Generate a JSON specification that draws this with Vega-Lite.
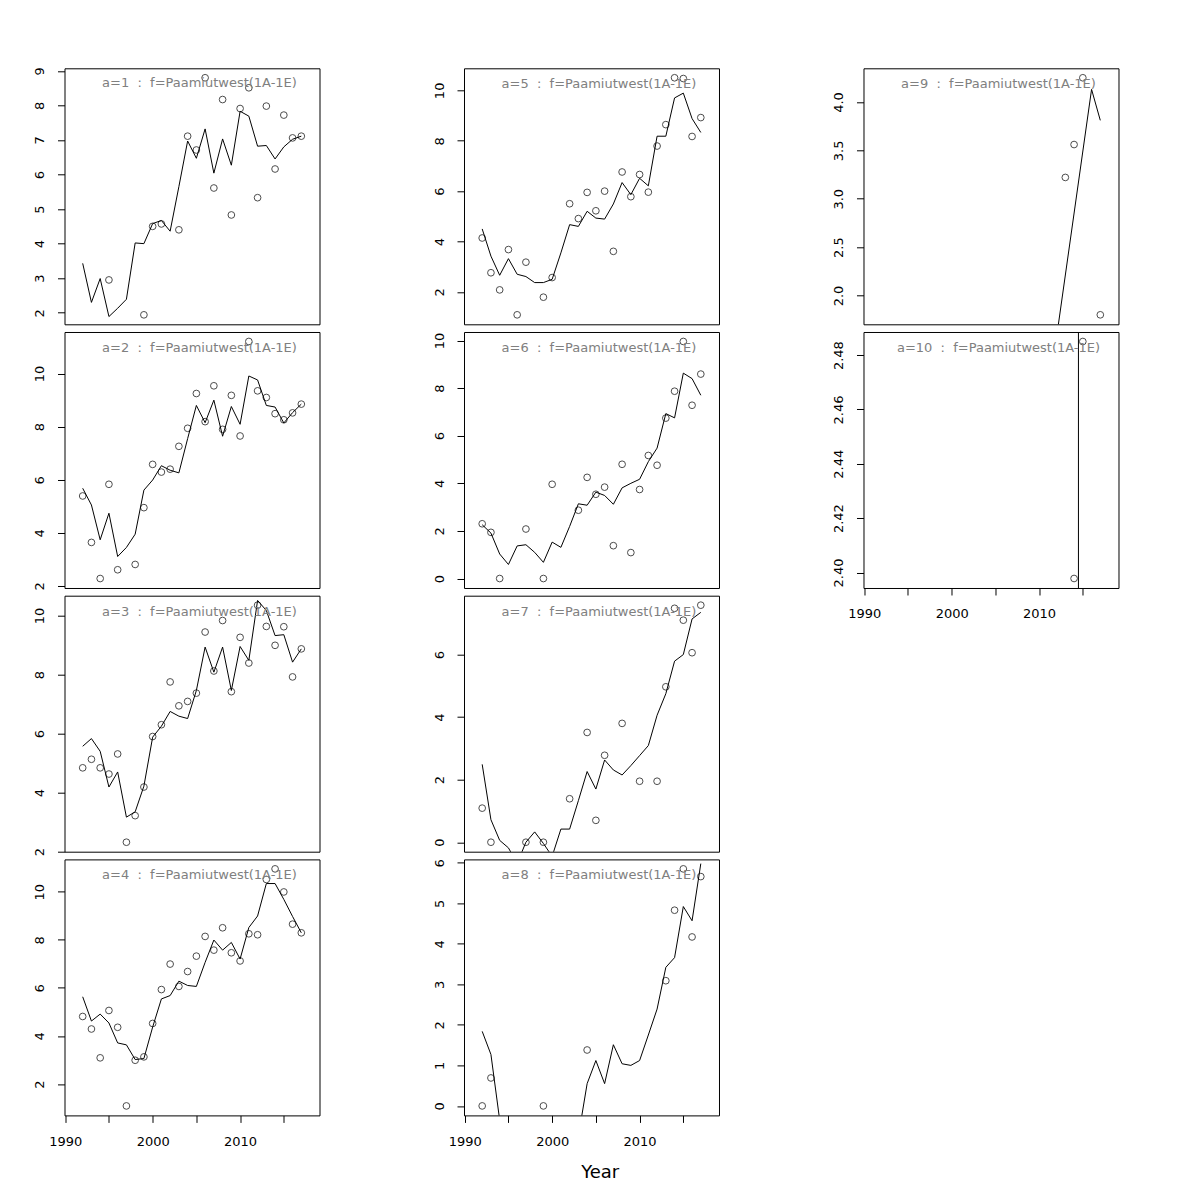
{
"$schema":"https://vega.github.io/schema/vega-lite/v6.json",
"background":"white",
"padding":{"left":32.5,"top":65.3,"right":5,"bottom":5},
"datasets":{"d":[
{"a":1,"year":1992,"obs":null,"fit":3.43},{"a":1,"year":1993,"obs":null,"fit":2.30},{"a":1,"year":1994,"obs":null,"fit":2.99},{"a":1,"year":1995,"obs":2.95,"fit":1.89},{"a":1,"year":1996,"obs":null,"fit":2.13},{"a":1,"year":1997,"obs":null,"fit":2.39},{"a":1,"year":1998,"obs":null,"fit":4.02},{"a":1,"year":1999,"obs":1.94,"fit":4.00},{"a":1,"year":2000,"obs":4.50,"fit":4.58},{"a":1,"year":2001,"obs":4.57,"fit":4.67},{"a":1,"year":2002,"obs":null,"fit":4.36},{"a":1,"year":2003,"obs":4.40,"fit":5.65},{"a":1,"year":2004,"obs":7.11,"fit":6.97},{"a":1,"year":2005,"obs":6.71,"fit":6.47},{"a":1,"year":2006,"obs":8.80,"fit":7.32},{"a":1,"year":2007,"obs":5.61,"fit":6.04},{"a":1,"year":2008,"obs":8.17,"fit":7.03},{"a":1,"year":2009,"obs":4.83,"fit":6.27},{"a":1,"year":2010,"obs":7.91,"fit":7.83},{"a":1,"year":2011,"obs":8.51,"fit":7.69},{"a":1,"year":2012,"obs":5.33,"fit":6.82},{"a":1,"year":2013,"obs":7.98,"fit":6.84},{"a":1,"year":2014,"obs":6.16,"fit":6.45},{"a":1,"year":2015,"obs":7.72,"fit":6.80},{"a":1,"year":2016,"obs":7.06,"fit":7.02},{"a":1,"year":2017,"obs":7.11,"fit":7.11},
{"a":2,"year":1992,"obs":5.39,"fit":5.68},{"a":2,"year":1993,"obs":3.64,"fit":5.05},{"a":2,"year":1994,"obs":2.28,"fit":3.74},{"a":2,"year":1995,"obs":5.83,"fit":4.74},{"a":2,"year":1996,"obs":2.61,"fit":3.11},{"a":2,"year":1997,"obs":null,"fit":3.45},{"a":2,"year":1998,"obs":2.81,"fit":3.95},{"a":2,"year":1999,"obs":4.95,"fit":5.61},{"a":2,"year":2000,"obs":6.58,"fit":5.99},{"a":2,"year":2001,"obs":6.29,"fit":6.53},{"a":2,"year":2002,"obs":6.40,"fit":6.36},{"a":2,"year":2003,"obs":7.26,"fit":6.26},{"a":2,"year":2004,"obs":7.94,"fit":7.55},{"a":2,"year":2005,"obs":9.25,"fit":8.80},{"a":2,"year":2006,"obs":8.19,"fit":8.15},{"a":2,"year":2007,"obs":9.54,"fit":9.00},{"a":2,"year":2008,"obs":7.90,"fit":7.64},{"a":2,"year":2009,"obs":9.18,"fit":8.76},{"a":2,"year":2010,"obs":7.65,"fit":8.09},{"a":2,"year":2011,"obs":11.21,"fit":9.91},{"a":2,"year":2012,"obs":9.35,"fit":9.76},{"a":2,"year":2013,"obs":9.10,"fit":8.80},{"a":2,"year":2014,"obs":8.49,"fit":8.74},{"a":2,"year":2015,"obs":8.26,"fit":8.14},{"a":2,"year":2016,"obs":8.52,"fit":8.53},{"a":2,"year":2017,"obs":8.85,"fit":8.85},
{"a":3,"year":1992,"obs":4.84,"fit":5.57},{"a":3,"year":1993,"obs":5.13,"fit":5.83},{"a":3,"year":1994,"obs":4.84,"fit":5.40},{"a":3,"year":1995,"obs":4.63,"fit":4.19},{"a":3,"year":1996,"obs":5.31,"fit":4.70},{"a":3,"year":1997,"obs":2.32,"fit":3.17},{"a":3,"year":1998,"obs":3.22,"fit":3.35},{"a":3,"year":1999,"obs":4.19,"fit":4.22},{"a":3,"year":2000,"obs":5.90,"fit":5.88},{"a":3,"year":2001,"obs":6.30,"fit":6.25},{"a":3,"year":2002,"obs":7.75,"fit":6.75},{"a":3,"year":2003,"obs":6.94,"fit":6.59},{"a":3,"year":2004,"obs":7.09,"fit":6.51},{"a":3,"year":2005,"obs":7.37,"fit":7.46},{"a":3,"year":2006,"obs":9.44,"fit":8.93},{"a":3,"year":2007,"obs":8.12,"fit":8.08},{"a":3,"year":2008,"obs":9.83,"fit":8.93},{"a":3,"year":2009,"obs":7.42,"fit":7.46},{"a":3,"year":2010,"obs":9.26,"fit":8.95},{"a":3,"year":2011,"obs":8.39,"fit":8.48},{"a":3,"year":2012,"obs":10.35,"fit":10.51},{"a":3,"year":2013,"obs":9.63,"fit":10.17},{"a":3,"year":2014,"obs":8.99,"fit":9.32},{"a":3,"year":2015,"obs":9.62,"fit":9.35},{"a":3,"year":2016,"obs":7.92,"fit":8.42},{"a":3,"year":2017,"obs":8.87,"fit":8.87},
{"a":4,"year":1992,"obs":4.81,"fit":5.63},{"a":4,"year":1993,"obs":4.29,"fit":4.62},{"a":4,"year":1994,"obs":3.09,"fit":4.91},{"a":4,"year":1995,"obs":5.06,"fit":4.54},{"a":4,"year":1996,"obs":4.36,"fit":3.71},{"a":4,"year":1997,"obs":1.09,"fit":3.63},{"a":4,"year":1998,"obs":2.99,"fit":3.02},{"a":4,"year":1999,"obs":3.13,"fit":3.06},{"a":4,"year":2000,"obs":4.52,"fit":4.37},{"a":4,"year":2001,"obs":5.93,"fit":5.54},{"a":4,"year":2002,"obs":6.99,"fit":5.68},{"a":4,"year":2003,"obs":6.06,"fit":6.28},{"a":4,"year":2004,"obs":6.68,"fit":6.10},{"a":4,"year":2005,"obs":7.32,"fit":6.06},{"a":4,"year":2006,"obs":8.14,"fit":7.06},{"a":4,"year":2007,"obs":7.57,"fit":7.99},{"a":4,"year":2008,"obs":8.50,"fit":7.57},{"a":4,"year":2009,"obs":7.46,"fit":7.89},{"a":4,"year":2010,"obs":7.12,"fit":7.20},{"a":4,"year":2011,"obs":8.25,"fit":8.51},{"a":4,"year":2012,"obs":8.21,"fit":8.99},{"a":4,"year":2013,"obs":10.51,"fit":10.34},{"a":4,"year":2014,"obs":10.95,"fit":10.34},{"a":4,"year":2015,"obs":9.99,"fit":9.68},{"a":4,"year":2016,"obs":8.65,"fit":8.97},{"a":4,"year":2017,"obs":8.29,"fit":8.29},
{"a":5,"year":1992,"obs":4.14,"fit":4.50},{"a":5,"year":1993,"obs":2.76,"fit":3.42},{"a":5,"year":1994,"obs":2.08,"fit":2.66},{"a":5,"year":1995,"obs":3.68,"fit":3.32},{"a":5,"year":1996,"obs":1.09,"fit":2.70},{"a":5,"year":1997,"obs":3.18,"fit":2.61},{"a":5,"year":1998,"obs":null,"fit":2.37},{"a":5,"year":1999,"obs":1.79,"fit":2.37},{"a":5,"year":2000,"obs":2.57,"fit":2.50},{"a":5,"year":2001,"obs":null,"fit":3.55},{"a":5,"year":2002,"obs":5.50,"fit":4.67},{"a":5,"year":2003,"obs":4.91,"fit":4.60},{"a":5,"year":2004,"obs":5.95,"fit":5.20},{"a":5,"year":2005,"obs":5.22,"fit":4.93},{"a":5,"year":2006,"obs":6.00,"fit":4.89},{"a":5,"year":2007,"obs":3.61,"fit":5.49},{"a":5,"year":2008,"obs":6.76,"fit":6.34},{"a":5,"year":2009,"obs":5.78,"fit":5.86},{"a":5,"year":2010,"obs":6.66,"fit":6.51},{"a":5,"year":2011,"obs":5.96,"fit":6.21},{"a":5,"year":2012,"obs":7.79,"fit":8.18},{"a":5,"year":2013,"obs":8.64,"fit":8.18},{"a":5,"year":2014,"obs":10.50,"fit":9.70},{"a":5,"year":2015,"obs":10.47,"fit":9.89},{"a":5,"year":2016,"obs":8.17,"fit":8.88},{"a":5,"year":2017,"obs":8.92,"fit":8.33},
{"a":6,"year":1992,"obs":2.30,"fit":2.26},{"a":6,"year":1993,"obs":1.94,"fit":1.91},{"a":6,"year":1994,"obs":0,"fit":1.03},{"a":6,"year":1995,"obs":null,"fit":0.59},{"a":6,"year":1996,"obs":null,"fit":1.37},{"a":6,"year":1997,"obs":2.08,"fit":1.42},{"a":6,"year":1998,"obs":null,"fit":1.10},{"a":6,"year":1999,"obs":0,"fit":0.68},{"a":6,"year":2000,"obs":3.96,"fit":1.53},{"a":6,"year":2001,"obs":null,"fit":1.31},{"a":6,"year":2002,"obs":null,"fit":2.19},{"a":6,"year":2003,"obs":2.87,"fit":3.14},{"a":6,"year":2004,"obs":4.25,"fit":3.08},{"a":6,"year":2005,"obs":3.54,"fit":3.63},{"a":6,"year":2006,"obs":3.84,"fit":3.49},{"a":6,"year":2007,"obs":1.38,"fit":3.12},{"a":6,"year":2008,"obs":4.80,"fit":3.81},{"a":6,"year":2009,"obs":1.09,"fit":4.00},{"a":6,"year":2010,"obs":3.74,"fit":4.17},{"a":6,"year":2011,"obs":5.17,"fit":4.91},{"a":6,"year":2012,"obs":4.76,"fit":5.48},{"a":6,"year":2013,"obs":6.74,"fit":6.93},{"a":6,"year":2014,"obs":7.87,"fit":6.75},{"a":6,"year":2015,"obs":9.96,"fit":8.63},{"a":6,"year":2016,"obs":7.28,"fit":8.40},{"a":6,"year":2017,"obs":8.59,"fit":7.70},
{"a":7,"year":1992,"obs":1.09,"fit":2.49},{"a":7,"year":1993,"obs":0,"fit":0.72},{"a":7,"year":1994,"obs":null,"fit":0.06},{"a":7,"year":1995,"obs":null,"fit":-0.18},{"a":7,"year":1996,"obs":null,"fit":-0.68},{"a":7,"year":1997,"obs":0,"fit":0.0},{"a":7,"year":1998,"obs":null,"fit":0.33},{"a":7,"year":1999,"obs":0,"fit":-0.04},{"a":7,"year":2000,"obs":null,"fit":-0.45},{"a":7,"year":2001,"obs":null,"fit":0.42},{"a":7,"year":2002,"obs":1.39,"fit":0.42},{"a":7,"year":2003,"obs":null,"fit":1.33},{"a":7,"year":2004,"obs":3.51,"fit":2.26},{"a":7,"year":2005,"obs":0.70,"fit":1.70},{"a":7,"year":2006,"obs":2.78,"fit":2.63},{"a":7,"year":2007,"obs":null,"fit":2.31},{"a":7,"year":2008,"obs":3.80,"fit":2.15},{"a":7,"year":2009,"obs":null,"fit":2.45},{"a":7,"year":2010,"obs":1.95,"fit":2.77},{"a":7,"year":2011,"obs":null,"fit":3.09},{"a":7,"year":2012,"obs":1.95,"fit":4.06},{"a":7,"year":2013,"obs":4.97,"fit":4.75},{"a":7,"year":2014,"obs":7.48,"fit":5.79},{"a":7,"year":2015,"obs":7.10,"fit":6.00},{"a":7,"year":2016,"obs":6.06,"fit":7.14},{"a":7,"year":2017,"obs":7.58,"fit":7.35},
{"a":8,"year":1992,"obs":0,"fit":1.84},{"a":8,"year":1993,"obs":0.69,"fit":1.27},{"a":8,"year":1994,"obs":null,"fit":-0.35},{"a":8,"year":1999,"obs":0,"fit":null},{"a":8,"year":2003,"obs":null,"fit":-0.75},{"a":8,"year":2004,"obs":1.38,"fit":0.55},{"a":8,"year":2005,"obs":null,"fit":1.12},{"a":8,"year":2006,"obs":null,"fit":0.55},{"a":8,"year":2007,"obs":null,"fit":1.51},{"a":8,"year":2008,"obs":null,"fit":1.04},{"a":8,"year":2009,"obs":null,"fit":1.00},{"a":8,"year":2010,"obs":null,"fit":1.12},{"a":8,"year":2011,"obs":null,"fit":1.75},{"a":8,"year":2012,"obs":null,"fit":2.39},{"a":8,"year":2013,"obs":3.09,"fit":3.42},{"a":8,"year":2014,"obs":4.83,"fit":3.66},{"a":8,"year":2015,"obs":5.85,"fit":4.92},{"a":8,"year":2016,"obs":4.17,"fit":4.57},{"a":8,"year":2017,"obs":5.66,"fit":5.98},
{"a":9,"year":2012,"obs":null,"fit":1.57},{"a":9,"year":2013,"obs":3.22,"fit":null},{"a":9,"year":2014,"obs":3.56,"fit":null},{"a":9,"year":2015,"obs":4.25,"fit":null},{"a":9,"year":2016,"obs":null,"fit":4.13},{"a":9,"year":2017,"obs":1.80,"fit":3.81},
{"a":10,"year":2014,"obs":2.3978,"fit":-50},{"a":10,"year":2015,"obs":2.485,"fit":55}
]},
"data":{"name":"d"},
"spacing":111.5,
"hconcat":[
{"spacing":7.7,"bounds":"flush","vconcat":[
{"width":255,"height":256,"title":{"text":"a=1\u00a0\u00a0:\u00a0\u00a0f=Paamiutwest(1A-1E)"},"transform":[{"filter":"datum.a == 1"}],
"encoding":{"x":{"field":"year","type":"quantitative","scale":{"domain":[1989.92,2019.08],"nice":false,"zero":false},"axis":null}},
"layer":[
{"transform":[{"filter":"isValid(datum.fit)"}],"mark":{"type":"line","clip":true,"color":"black","strokeWidth":1},"encoding":{"y":{"field":"fit","type":"quantitative","title":null,"scale":{"domain":[1.666,9.074],"nice":false,"zero":false},"axis":{"values":[2,3,4,5,6,7,8,9]}}}},
{"transform":[{"filter":"isValid(datum.obs)"}],"mark":{"type":"point","clip":true,"shape":"circle","filled":false,"color":"black","size":45,"strokeWidth":1},"encoding":{"y":{"field":"obs","type":"quantitative","title":null,"scale":{"domain":[1.666,9.074],"nice":false,"zero":false},"axis":{"values":[2,3,4,5,6,7,8,9]}}}}]},
{"width":255,"height":256,"title":{"text":"a=2\u00a0\u00a0:\u00a0\u00a0f=Paamiutwest(1A-1E)"},"transform":[{"filter":"datum.a == 2"}],
"encoding":{"x":{"field":"year","type":"quantitative","scale":{"domain":[1989.92,2019.08],"nice":false,"zero":false},"axis":null}},
"layer":[
{"transform":[{"filter":"isValid(datum.fit)"}],"mark":{"type":"line","clip":true,"color":"black","strokeWidth":1},"encoding":{"y":{"field":"fit","type":"quantitative","title":null,"scale":{"domain":[1.923,11.567],"nice":false,"zero":false},"axis":{"values":[2,4,6,8,10]}}}},
{"transform":[{"filter":"isValid(datum.obs)"}],"mark":{"type":"point","clip":true,"shape":"circle","filled":false,"color":"black","size":45,"strokeWidth":1},"encoding":{"y":{"field":"obs","type":"quantitative","title":null,"scale":{"domain":[1.923,11.567],"nice":false,"zero":false},"axis":{"values":[2,4,6,8,10]}}}}]},
{"width":255,"height":256,"title":{"text":"a=3\u00a0\u00a0:\u00a0\u00a0f=Paamiutwest(1A-1E)"},"transform":[{"filter":"datum.a == 3"}],
"encoding":{"x":{"field":"year","type":"quantitative","scale":{"domain":[1989.92,2019.08],"nice":false,"zero":false},"axis":null}},
"layer":[
{"transform":[{"filter":"isValid(datum.fit)"}],"mark":{"type":"line","clip":true,"color":"black","strokeWidth":1},"encoding":{"y":{"field":"fit","type":"quantitative","title":null,"scale":{"domain":[1.999,10.671],"nice":false,"zero":false},"axis":{"values":[2,4,6,8,10]}}}},
{"transform":[{"filter":"isValid(datum.obs)"}],"mark":{"type":"point","clip":true,"shape":"circle","filled":false,"color":"black","size":45,"strokeWidth":1},"encoding":{"y":{"field":"obs","type":"quantitative","title":null,"scale":{"domain":[1.999,10.671],"nice":false,"zero":false},"axis":{"values":[2,4,6,8,10]}}}}]},
{"width":255,"height":256,"title":{"text":"a=4\u00a0\u00a0:\u00a0\u00a0f=Paamiutwest(1A-1E)"},"transform":[{"filter":"datum.a == 4"}],
"encoding":{"x":{"field":"year","type":"quantitative","scale":{"domain":[1989.92,2019.08],"nice":false,"zero":false},"axis":{"values":[1990,1995,2000,2005,2010,2015],"format":"d","labelExpr":"datum.value % 10 === 0 ? datum.label : ''","title":null}}},
"layer":[
{"transform":[{"filter":"isValid(datum.fit)"}],"mark":{"type":"line","clip":true,"color":"black","strokeWidth":1},"encoding":{"y":{"field":"fit","type":"quantitative","title":null,"scale":{"domain":[0.696,11.344],"nice":false,"zero":false},"axis":{"values":[2,4,6,8,10]}}}},
{"transform":[{"filter":"isValid(datum.obs)"}],"mark":{"type":"point","clip":true,"shape":"circle","filled":false,"color":"black","size":45,"strokeWidth":1},"encoding":{"y":{"field":"obs","type":"quantitative","title":null,"scale":{"domain":[0.696,11.344],"nice":false,"zero":false},"axis":{"values":[2,4,6,8,10]}}}}]}
]},
{"spacing":7.7,"bounds":"flush","vconcat":[
{"width":255,"height":256,"title":{"text":"a=5\u00a0\u00a0:\u00a0\u00a0f=Paamiutwest(1A-1E)"},"transform":[{"filter":"datum.a == 5"}],
"encoding":{"x":{"field":"year","type":"quantitative","scale":{"domain":[1989.92,2019.08],"nice":false,"zero":false},"axis":null}},
"layer":[
{"transform":[{"filter":"isValid(datum.fit)"}],"mark":{"type":"line","clip":true,"color":"black","strokeWidth":1},"encoding":{"y":{"field":"fit","type":"quantitative","title":null,"scale":{"domain":[0.714,10.876],"nice":false,"zero":false},"axis":{"values":[2,4,6,8,10]}}}},
{"transform":[{"filter":"isValid(datum.obs)"}],"mark":{"type":"point","clip":true,"shape":"circle","filled":false,"color":"black","size":45,"strokeWidth":1},"encoding":{"y":{"field":"obs","type":"quantitative","title":null,"scale":{"domain":[0.714,10.876],"nice":false,"zero":false},"axis":{"values":[2,4,6,8,10]}}}}]},
{"width":255,"height":256,"title":{"text":"a=6\u00a0\u00a0:\u00a0\u00a0f=Paamiutwest(1A-1E)"},"transform":[{"filter":"datum.a == 6"}],
"encoding":{"x":{"field":"year","type":"quantitative","scale":{"domain":[1989.92,2019.08],"nice":false,"zero":false},"axis":null}},
"layer":[
{"transform":[{"filter":"isValid(datum.fit)"}],"mark":{"type":"line","clip":true,"color":"black","strokeWidth":1},"encoding":{"y":{"field":"fit","type":"quantitative","title":null,"scale":{"domain":[-0.398,10.358],"nice":false,"zero":false},"axis":{"values":[0,2,4,6,8,10]}}}},
{"transform":[{"filter":"isValid(datum.obs)"}],"mark":{"type":"point","clip":true,"shape":"circle","filled":false,"color":"black","size":45,"strokeWidth":1},"encoding":{"y":{"field":"obs","type":"quantitative","title":null,"scale":{"domain":[-0.398,10.358],"nice":false,"zero":false},"axis":{"values":[0,2,4,6,8,10]}}}}]},
{"width":255,"height":256,"title":{"text":"a=7\u00a0\u00a0:\u00a0\u00a0f=Paamiutwest(1A-1E)"},"transform":[{"filter":"datum.a == 7"}],
"encoding":{"x":{"field":"year","type":"quantitative","scale":{"domain":[1989.92,2019.08],"nice":false,"zero":false},"axis":null}},
"layer":[
{"transform":[{"filter":"isValid(datum.fit)"}],"mark":{"type":"line","clip":true,"color":"black","strokeWidth":1},"encoding":{"y":{"field":"fit","type":"quantitative","title":null,"scale":{"domain":[-0.303,7.883],"nice":false,"zero":false},"axis":{"values":[0,2,4,6]}}}},
{"transform":[{"filter":"isValid(datum.obs)"}],"mark":{"type":"point","clip":true,"shape":"circle","filled":false,"color":"black","size":45,"strokeWidth":1},"encoding":{"y":{"field":"obs","type":"quantitative","title":null,"scale":{"domain":[-0.303,7.883],"nice":false,"zero":false},"axis":{"values":[0,2,4,6]}}}}]},
{"width":255,"height":256,"title":{"text":"a=8\u00a0\u00a0:\u00a0\u00a0f=Paamiutwest(1A-1E)"},"transform":[{"filter":"datum.a == 8"}],
"encoding":{"x":{"field":"year","type":"quantitative","scale":{"domain":[1989.92,2019.08],"nice":false,"zero":false},"axis":{"values":[1990,1995,2000,2005,2010,2015],"format":"d","labelExpr":"datum.value % 10 === 0 ? datum.label : ''","title":"Year","titleFontSize":18,"titleFont":"DejaVu Sans","titleFontWeight":"normal","titleColor":"black","titleX":135.7,"titleY":62.5,"titleBaseline":"alphabetic","titleAlign":"center","titleAnchor":null}}},
"layer":[
{"transform":[{"filter":"isValid(datum.fit)"}],"mark":{"type":"line","clip":true,"color":"black","strokeWidth":1},"encoding":{"y":{"field":"fit","type":"quantitative","title":null,"scale":{"domain":[-0.234,6.084],"nice":false,"zero":false},"axis":{"values":[0,1,2,3,4,5,6]}}}},
{"transform":[{"filter":"isValid(datum.obs)"}],"mark":{"type":"point","clip":true,"shape":"circle","filled":false,"color":"black","size":45,"strokeWidth":1},"encoding":{"y":{"field":"obs","type":"quantitative","title":null,"scale":{"domain":[-0.234,6.084],"nice":false,"zero":false},"axis":{"values":[0,1,2,3,4,5,6]}}}}]}
]},
{"spacing":7.7,"bounds":"flush","vconcat":[
{"width":255,"height":256,"title":{"text":"a=9\u00a0\u00a0:\u00a0\u00a0f=Paamiutwest(1A-1E)"},"transform":[{"filter":"datum.a == 9"}],
"encoding":{"x":{"field":"year","type":"quantitative","scale":{"domain":[1989.92,2019.08],"nice":false,"zero":false},"axis":null}},
"layer":[
{"transform":[{"filter":"isValid(datum.fit)"}],"mark":{"type":"line","clip":true,"color":"black","strokeWidth":1},"encoding":{"y":{"field":"fit","type":"quantitative","title":null,"scale":{"domain":[1.702,4.348],"nice":false,"zero":false},"axis":{"values":[2,2.5,3,3.5,4],"format":".1f"}}}},
{"transform":[{"filter":"isValid(datum.obs)"}],"mark":{"type":"point","clip":true,"shape":"circle","filled":false,"color":"black","size":45,"strokeWidth":1},"encoding":{"y":{"field":"obs","type":"quantitative","title":null,"scale":{"domain":[1.702,4.348],"nice":false,"zero":false},"axis":{"values":[2,2.5,3,3.5,4],"format":".1f"}}}}]},
{"width":255,"height":256,"title":{"text":"a=10\u00a0\u00a0:\u00a0\u00a0f=Paamiutwest(1A-1E)"},"transform":[{"filter":"datum.a == 10"}],
"encoding":{"x":{"field":"year","type":"quantitative","scale":{"domain":[1989.92,2019.08],"nice":false,"zero":false},"axis":{"values":[1990,1995,2000,2005,2010,2015],"format":"d","labelExpr":"datum.value % 10 === 0 ? datum.label : ''","title":null}}},
"layer":[
{"transform":[{"filter":"isValid(datum.fit)"}],"mark":{"type":"line","clip":true,"color":"black","strokeWidth":1},"encoding":{"y":{"field":"fit","type":"quantitative","title":null,"scale":{"domain":[2.3943,2.4885],"nice":false,"zero":false},"axis":{"values":[2.40,2.42,2.44,2.46,2.48],"format":".2f"}}}},
{"transform":[{"filter":"isValid(datum.obs)"}],"mark":{"type":"point","clip":true,"shape":"circle","filled":false,"color":"black","size":45,"strokeWidth":1},"encoding":{"y":{"field":"obs","type":"quantitative","title":null,"scale":{"domain":[2.3943,2.4885],"nice":false,"zero":false},"axis":{"values":[2.40,2.42,2.44,2.46,2.48],"format":".2f"}}}}]}
]}
],
"config":{
"font":"DejaVu Sans",
"view":{"stroke":"black","strokeWidth":1},
"axis":{"grid":false,"domain":false,"ticks":true,"tickColor":"black","tickSize":7,"tickWidth":1,"labelFont":"DejaVu Sans","labelFontSize":13,"labelColor":"black","labelOverlap":false,"labelFlush":false},
"axisX":{"labelPadding":22.7,"labelBaseline":"alphabetic","labelAlign":"center"},
"axisY":{"labelAngle":-90,"labelAlign":"center","labelBaseline":"alphabetic","labelPadding":14},
"title":{"anchor":"middle","dx":7.5,"offset":-23,"baseline":"alphabetic","color":"#808080","font":"DejaVu Sans","fontSize":13,"fontWeight":"normal"}
}
}
